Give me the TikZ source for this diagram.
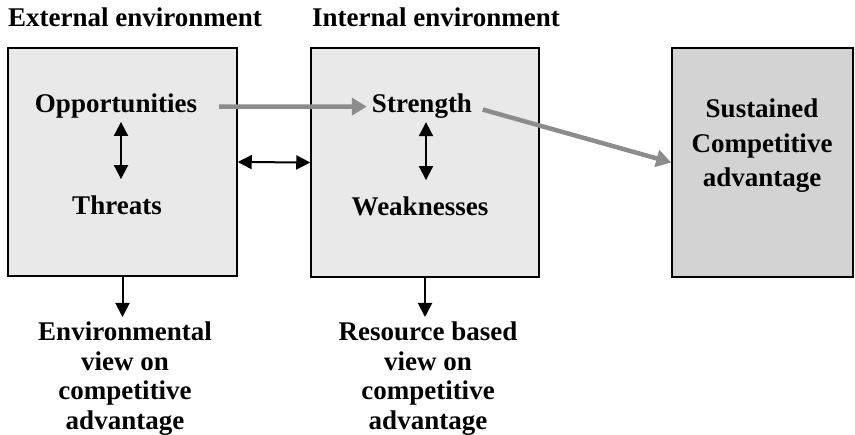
\documentclass[tikz,border=0pt]{standalone}
\usepackage{fontspec}
\setmainfont{Liberation Serif}
\usetikzlibrary{arrows.meta}
\definecolor{boxgrey}{HTML}{E9E9E9}
\definecolor{sustgrey}{HTML}{D3D3D3}
\definecolor{arrowgrey}{HTML}{8C8C8C}
\tikzset{
    envbox/.style={
        rectangle,
        draw,
        line width=1.5pt,
        fill=boxgrey,
        inner sep=0pt
    },
    sustbox/.style={
        envbox,
        fill=sustgrey
    },
    lbl/.style={
        font=\fontsize{27}{29.5}\selectfont\bfseries,
        inner sep=0pt,
        align=center
    },
    blackarrow/.style={
        line width=2pt,
        -{Triangle[length=14pt,width=14pt]}
    },
    botharrow/.style={
        blackarrow,
        {Triangle[length=14pt,width=14pt]}-{Triangle[length=14pt,width=14pt]}
    },
    greyarrow/.style={
        line width=4.5pt,
        draw=arrowgrey,
        -{Triangle[length=15pt,width=17pt]}
    }
}

\begin{document}
\begin{tikzpicture}[x=1pt, y=-1pt]
    \useasboundingbox (0,0) rectangle (855,435);

    \node[envbox, minimum width=229pt, minimum height=228pt] (extbox) at (122.5,162) {};
    \node[envbox, minimum width=228pt, minimum height=229pt] (intbox) at (425,162.5) {};
    \node[sustbox, minimum width=181pt, minimum height=229pt] (sca) at (762.5,162.5) {};

    \node[lbl, anchor=base] (exthead) at (135,27) {External environment};
    \node[lbl, anchor=base] (inthead) at (436,27) {Internal environment};

    \node[lbl, anchor=base] (opp) at (116,113) {Opportunities};
    \node[lbl, anchor=base] (thr) at (117,215) {Threats};
    \node[lbl, anchor=base] (str) at (422,113) {Strength};
    \node[lbl, anchor=base] (weak) at (420,216) {Weaknesses};

    \node[lbl, anchor=north, font=\fontsize{27}{34.5}\selectfont\bfseries] (scatext) at (762,99)
        {Sustained\\Competitive\\advantage};

    \node[lbl, anchor=north] (envview) at (125,322) {Environmental\\view on\\competitive\\advantage};
    \node[lbl, anchor=north] (resview) at (428,322) {Resource based\\view on\\competitive\\advantage};

    \draw[botharrow, shorten <=3pt, shorten >=17pt] ([xshift=5pt]opp.south) -- ([xshift=5pt]opp.south |- thr.north);
    \draw[botharrow, shorten <=3pt, shorten >=17pt] ([xshift=4pt]str.south) -- ([xshift=4pt]str.south |- weak.north);
    \draw[botharrow] (extbox.east) -- (intbox.west);

    \draw[blackarrow, shorten >=5pt] (extbox.south) -- (extbox.south |- envview.north);
    \draw[blackarrow, shorten >=5pt] (intbox.south) -- (intbox.south |- resview.north);

    \draw[greyarrow, shorten <=22pt, shorten >=5pt] (opp.east) -- (str.west);
    \draw[greyarrow, shorten <=11pt] (str.east) -- (sca.west);
\end{tikzpicture}
\end{document}
